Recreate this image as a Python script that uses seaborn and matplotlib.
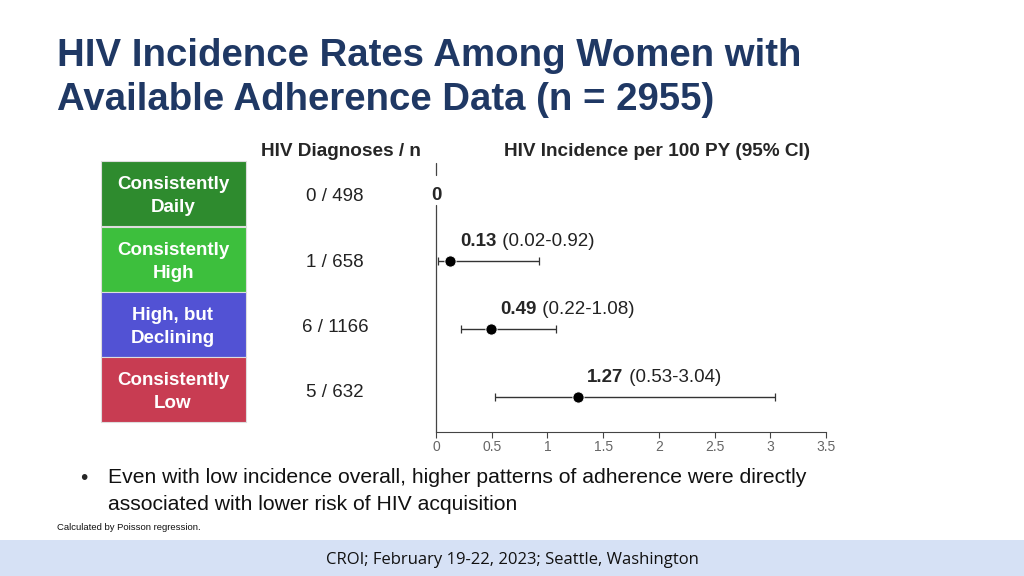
import numpy as np
import pandas as pd
import matplotlib.pyplot as plt
import seaborn as sns
from matplotlib.patches import Rectangle

# data
groups = ["Consistently\nDaily", "Consistently\nHigh", "High, but\nDeclining", "Consistently\nLow"]
group_colors = ["#2e8b2e", "#3dbf3d", "#5252d4", "#c83c52"]
diagnoses = [0, 1, 6, 5]
n_women = [498, 658, 1166, 632]
rate = [0.0, 0.13, 0.49, 1.27]
ci_low = [np.nan, 0.02, 0.22, 0.53]
ci_high = [np.nan, 0.92, 1.08, 3.04]
x_ticks = [0, 0.5, 1, 1.5, 2, 2.5, 3, 3.5]

sns.set_theme(style="white")
plt.rcParams["font.family"] = ["Liberation Sans", "DejaVu Sans"]

df = pd.DataFrame({"group": groups, "row": range(len(groups)), "rate": rate,
                   "lo": ci_low, "hi": ci_high})
est = df.dropna()

fig = plt.figure(figsize=(10.24, 5.76), dpi=100)
W, H = 1024, 576

# ---- forest plot axes ----
ax = fig.add_axes([436 / W, 1 - 432 / H, 390 / W, (432 - 160) / H])
ax.errorbar(est["rate"], est["row"], xerr=[est["rate"] - est["lo"], est["hi"] - est["rate"]],
            fmt="none", ecolor="#333333", elinewidth=1.0, capsize=3, capthick=0.9)
sns.scatterplot(data=est, x="rate", y="row", color="black", s=65, ax=ax, zorder=3, legend=False)
ax.set_xlim(0, 3.5)
ax.set_ylim(3.51, -0.485)
ax.set_xticks(x_ticks)
ax.set_xticklabels([f"{t:g}" for t in x_ticks], fontsize=10, color="#666666")
ax.tick_params(axis="x", length=4, width=0.8, color="#444444", pad=2, bottom=True)
ax.set_yticks([])
ax.set_xlabel("")
ax.set_ylabel("")
for s in ["top", "right", "left"]:
    ax.spines[s].set_visible(False)
ax.spines["bottom"].set_color("#444444")
ax.spines["bottom"].set_linewidth(0.8)
ax.plot([0, 0], [0.18, 3.51], color="#444444", lw=0.9, clip_on=False)
ax.plot([0, 0], [-0.44, -0.26], color="#444444", lw=0.9, clip_on=False)

# estimate labels
for r, v, lo, hi in zip(df["row"], rate, ci_low, ci_high):
    if np.isnan(lo):
        ax.annotate(f"{v:g}", xy=(v, r), xytext=(0, -1.5), textcoords="offset points",
                    ha="center", va="center", fontsize=13.5, fontweight="bold")
        continue
    b = ax.annotate(f"{v:.2f}", xy=(v, r), xytext=(7, 14), textcoords="offset points",
                    ha="left", va="center", fontsize=13.5, fontweight="bold")
    ax.annotate(f" ({lo:.2f}-{hi:.2f})", xy=(1, 0.5), xycoords=b, ha="left", va="center",
                fontsize=13.5, color="#222222")

# ---- left table ----
row_top = [161, 227, 292, 357]
row_h = 65
for i, (g, c) in enumerate(zip(groups, group_colors)):
    y0 = 1 - (row_top[i] + row_h) / H
    fig.patches.append(Rectangle((101 / W, y0), 145 / W, row_h / H, transform=fig.transFigure,
                                 facecolor=c, edgecolor="#dddddd", lw=0.8))
    fig.text(173 / W, y0 + (row_h / 2 - 2.5) / H, g, ha="center", va="center", color="white",
             fontsize=13.5, fontweight="bold", linespacing=1.45)
    fig.text(335 / W, 1 - (row_top[i] + row_h / 2 + 3) / H, f"{diagnoses[i]} / {n_women[i]}",
             ha="center", va="center", fontsize=13.5, color="#222222")

fig.text(341 / W, 1 - 151.5 / H, "HIV Diagnoses / n", ha="center", va="center",
         fontsize=13.7, fontweight="bold")
fig.text(657 / W, 1 - 151.5 / H, "HIV Incidence per 100 PY (95% CI)", ha="center", va="center",
         fontsize=13.7, fontweight="bold")

# ---- title, notes, footer ----
fig.text(57 / W, 1 - 38 / H, "HIV Incidence Rates Among Women with\nAvailable Adherence Data (n = 2955)",
         ha="left", va="top", fontsize=27.6, fontweight="bold", color="#1f3864", linespacing=1.27)
fig.text(80 / W, 1 - 479 / H, "•", ha="left", va="center", fontsize=15)
fig.text(108 / W, 1 - 491 / H,
         "Even with low incidence overall, higher patterns of adherence were directly\n"
         "associated with lower risk of HIV acquisition",
         ha="left", va="center", fontsize=15.25, color="#111111", linespacing=1.5)
fig.text(57 / W, 1 - 528 / H, "Calculated by Poisson regression.", ha="left", va="center",
         fontsize=6.8, color="#111111")
fig.patches.append(Rectangle((0, 0), 1, 36 / H, transform=fig.transFigure,
                             facecolor="#d6e1f5", edgecolor="none"))
fig.text(0.5, 1 - 559.5 / H, "CROI; February 19-22, 2023; Seattle, Washington", ha="center",
         va="center", fontsize=12, color="#111111", family="Open Sans")

fig.savefig("out.png", dpi=100)
